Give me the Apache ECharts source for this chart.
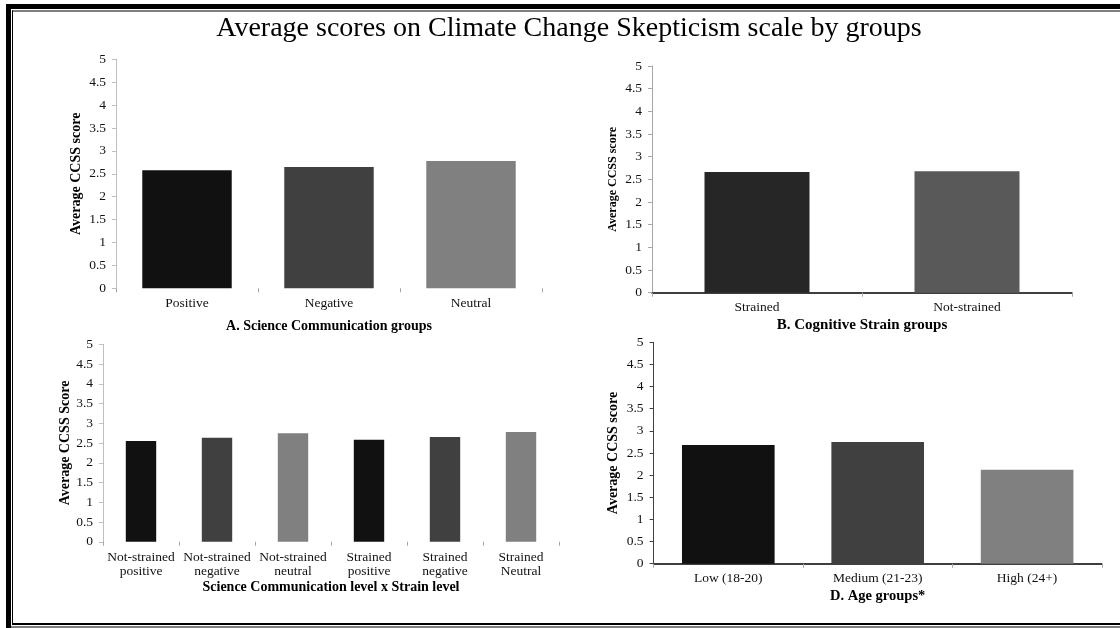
<!DOCTYPE html>
<html>
<head>
<meta charset="utf-8">
<script src="https://cdn.jsdelivr.net/npm/echarts@6/dist/echarts.min.js"></script>
<style>
html,body{margin:0;padding:0;background:#fff;}
#chart{width:1120px;height:628px;}
</style>
</head>
<body>
<div id="chart"></div>
<script>
// ---- data ----
const chartTitle = 'Average scores on Climate Change Skepticism scale by groups';

const catsA = ['Positive', 'Negative', 'Neutral'];
const valsA = [2.58, 2.65, 2.78];
const nameXA = 'A. Science Communication groups';
const nameYA = 'Average CCSS score';

const catsB = ['Strained', 'Not-strained'];
const valsB = [2.66, 2.68];
const nameXB = 'B. Cognitive Strain groups';
const nameYB = 'Average CCSS score';

const catsC = ['Not-strained\npositive', 'Not-strained\nnegative', 'Not-strained\nneutral',
               'Strained\npositive', 'Strained\nnegative', 'Strained\nNeutral'];
const valsC = [2.55, 2.63, 2.75, 2.58, 2.65, 2.78];
const nameXC = 'Science Communication level x Strain level';
const nameYC = 'Average CCSS Score';

const catsD = ['Low (18-20)', 'Medium (21-23)', 'High (24+)'];
const valsD = [2.68, 2.75, 2.12];
const nameXD = 'D. Age groups*';
const nameYD = 'Average CCSS score';

const yMin = 0, yMax = 5, yStep = 0.5;

// ---- styles ----
const FONT = "'Liberation Serif', 'Times New Roman', serif";
const colorsA = ['#111111', '#404040', '#808080'];
const colorsB = ['#262626', '#595959'];
const colorsC = ['#111111', '#404040', '#808080', '#111111', '#404040', '#808080'];
const colorsD = ['#111111', '#404040', '#808080'];

const panels = [
  {cats: catsA, vals: valsA, colors: colorsA, nx: nameXA, ny: nameYA,
   grid: {left: 116, top: 59.3, width: 426, height: 229},
   gap: '37%', xLine: false, xLineColor: '#bfbfbf', yLineColor: '#bfbfbf',
   nxGap: 31, nyGap: 33, nySize: 14, nxSize: 14, lblMargin: 8},
  {cats: catsB, vals: valsB, colors: colorsB, nx: nameXB, ny: nameYB,
   grid: {left: 652, top: 66, width: 420, height: 226.7},
   gap: '50%', xLine: true, xLineColor: '#000000', yLineColor: '#a6a6a6',
   nxGap: 25, nyGap: 33, nySize: 12, nxSize: 15, lblMargin: 8},
  {cats: catsC, vals: valsC, colors: colorsC, nx: nameXC, ny: nameYC,
   grid: {left: 103, top: 344.25, width: 456, height: 197.5},
   gap: '60%', xLine: false, xLineColor: '#bfbfbf', yLineColor: '#bfbfbf',
   nxGap: 39, nyGap: 30, nySize: 14, nxSize: 14, lblMargin: 9},
  {cats: catsD, vals: valsD, colors: colorsD, nx: nameXD, ny: nameYD,
   grid: {left: 653.6, top: 342.3, width: 448.2, height: 221.4},
   gap: '38%', xLine: true, xLineColor: '#000000', yLineColor: '#404040',
   nxGap: 25, nyGap: 33, nySize: 14, nxSize: 14.5, lblMargin: 8}
];

const option = {
  animation: false,
  backgroundColor: '#ffffff',
  title: {
    text: chartTitle,
    left: 569, top: 15, textAlign: 'center', padding: 0,
    textStyle: {fontFamily: FONT, fontSize: 28, fontWeight: 'normal', color: '#000'}
  },
  grid: [], xAxis: [], yAxis: [], series: [],
  graphic: [
    {type: 'rect', shape: {x: 6, y: 4, width: 1114, height: 5}, style: {fill: '#000'}},
    {type: 'rect', shape: {x: 12, y: 10.5, width: 1108, height: 1}, style: {fill: '#000'}},
    {type: 'rect', shape: {x: 6, y: 4, width: 5, height: 624}, style: {fill: '#000'}},
    {type: 'rect', shape: {x: 12, y: 10.5, width: 1, height: 613}, style: {fill: '#000'}},
    {type: 'rect', shape: {x: 12, y: 623, width: 1108, height: 2}, style: {fill: '#000'}},
    {type: 'rect', shape: {x: 6, y: 626.5, width: 1114, height: 1}, style: {fill: '#000'}}
  ]
};

panels.forEach((p, i) => {
  option.grid.push(Object.assign({containLabel: false}, p.grid));
  option.xAxis.push({
    type: 'category', gridIndex: i, data: p.cats,
    name: p.nx, nameLocation: 'middle', nameGap: p.nxGap,
    nameTextStyle: {fontFamily: FONT, fontSize: p.nxSize, fontWeight: 'bold', color: '#000'},
    axisLine: {show: p.xLine, lineStyle: {color: p.xLineColor, width: 1.5}},
    axisTick: {show: true, length: 4, lineStyle: {color: '#a6a6a6'}},
    axisLabel: {interval: 0, margin: p.lblMargin, fontFamily: FONT, fontSize: 13.5, color: '#111', lineHeight: 14},
    splitLine: {show: false}
  });
  option.yAxis.push({
    type: 'value', gridIndex: i, min: yMin, max: yMax, interval: yStep,
    name: p.ny, nameLocation: 'middle', nameGap: p.nyGap,
    nameTextStyle: {fontFamily: FONT, fontSize: p.nySize, fontWeight: 'bold', color: '#000'},
    axisLine: {show: true, lineStyle: {color: p.yLineColor, width: 1}},
    axisTick: {show: true, length: 4, lineStyle: {color: p.yLineColor}},
    axisLabel: {margin: 10, fontFamily: FONT, fontSize: 13.5, color: '#111'},
    splitLine: {show: false}
  });
  option.series.push({
    type: 'bar', xAxisIndex: i, yAxisIndex: i,
    barCategoryGap: p.gap,
    data: p.vals.map((v, k) => ({value: v, itemStyle: {color: p.colors[k]}}))
  });
});

const chart = echarts.init(document.getElementById('chart'), null, {renderer: 'canvas'});
chart.setOption(option);
</script>
</body>
</html>
